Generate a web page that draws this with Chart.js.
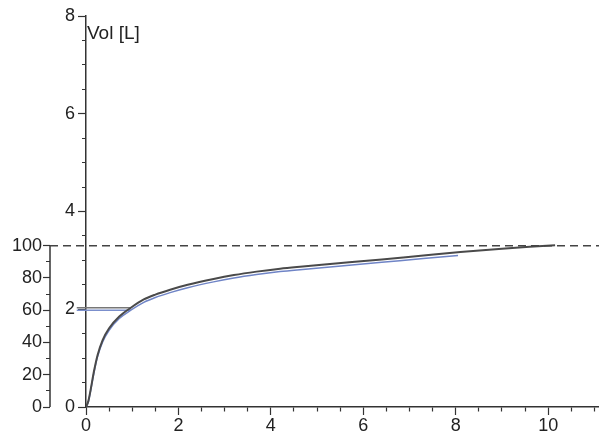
<!DOCTYPE html>
<html>
<head>
<meta charset="utf-8">
<script src="https://cdn.jsdelivr.net/npm/chart.js@4.4.1/dist/chart.umd.min.js"></script>
<style>
  body { margin: 0; background: #fff; }
  #wrap { width: 599px; height: 446px; }
</style>
</head>
<body>
<div id="wrap"><canvas id="volChart" width="599" height="446"></canvas></div>
<script>
// Volume-time curve data (seconds, litres)
const measTime = [0, 0.05, 0.1, 0.17, 0.25, 0.36, 0.5, 0.72, 0.97, 1.25, 1.5, 1.82, 2.2, 2.76, 3.2, 3.69, 4.2, 4.63, 5.46, 6.4, 7.3, 8.1, 9.0, 9.6, 10.15];
const measVol  = [0, 0.12, 0.35, 0.72, 1.06, 1.37, 1.61, 1.85, 2.03, 2.20, 2.30, 2.40, 2.50, 2.62, 2.70, 2.77, 2.83, 2.87, 2.94, 3.02, 3.10, 3.17, 3.24, 3.28, 3.31];

const refTime = [0, 0.05, 0.1, 0.17, 0.25, 0.36, 0.5, 0.72, 0.97, 1.25, 1.5, 1.82, 2.2, 2.76, 3.2, 3.69, 4.2, 4.63, 5.46, 6.4, 7.3, 8.05];
const refVol  = [0, 0.10, 0.33, 0.69, 1.03, 1.33, 1.57, 1.81, 1.98, 2.14, 2.24, 2.34, 2.44, 2.56, 2.64, 2.71, 2.77, 2.81, 2.88, 2.96, 3.04, 3.10];

// FEV1 markers: horizontal lines ending at 1 s
const fev1Time = [-0.2, 0.97];
const fev1Meas = [2.03, 2.03];
const fev1Ref  = [1.98, 1.98];

// 100 % reference volume (dashed line)
const fullVol = 3.30;

// axis settings
const xMax = 11.1;
const volMax = 8;
const pctLabels = [0, 20, 40, 60, 80, 100];

const toPoints = (xs, ys) => xs.map((x, i) => ({ x: x, y: ys[i] }));

const axisColor = '#333';
const fontSpec = { family: "'Liberation Sans', Arial, sans-serif", size: 18 };

// dashed 100% line, partial % axis line and the "Vol [L]" caption
const extrasPlugin = {
    id: 'extras',
    afterDatasetsDraw(chart) {
        const ctx = chart.ctx;
        const area = chart.chartArea;
        const pct = chart.scales.yPct;
        const vol = chart.scales.y;
        const axisX = pct.right;

        ctx.save();
        // % axis line from 0 to 100
        ctx.strokeStyle = axisColor;
        ctx.lineWidth = 1.5;
        ctx.beginPath();
        ctx.moveTo(axisX, pct.getPixelForValue(0));
        ctx.lineTo(axisX, pct.getPixelForValue(100));
        ctx.stroke();

        // dashed line at 100 %
        const y100 = pct.getPixelForValue(100);
        ctx.setLineDash([8, 5]);
        ctx.strokeStyle = '#444';
        ctx.beginPath();
        ctx.moveTo(axisX, y100);
        ctx.lineTo(area.right, y100);
        ctx.stroke();
        ctx.setLineDash([]);

        // caption
        ctx.fillStyle = '#222';
        ctx.font = "19px 'Liberation Sans', Arial, sans-serif";
        ctx.textBaseline = 'alphabetic';
        ctx.textAlign = 'left';
        ctx.fillText('Vol [L]', area.left + 1, vol.getPixelForValue(volMax) + 23);
        ctx.restore();
    }
};

function minorDash(len, minor, isLeft) {
    // shorten minor ticks with a dash pattern
    return isLeft ? [0, len - minor, minor, 60] : [minor, 60];
}

new Chart(document.getElementById('volChart'), {
    type: 'line',
    data: {
        datasets: [
            {
                label: 'measured',
                data: toPoints(measTime, measVol),
                borderColor: '#4a4a4a',
                borderWidth: 2,
                pointRadius: 0,
                cubicInterpolationMode: 'monotone',
                yAxisID: 'y'
            },
            {
                label: 'reference',
                data: toPoints(refTime, refVol),
                borderColor: '#6f84c6',
                borderWidth: 1.5,
                pointRadius: 0,
                cubicInterpolationMode: 'monotone',
                yAxisID: 'y'
            },
            {
                label: 'FEV1 measured',
                data: toPoints(fev1Time, fev1Meas),
                borderColor: '#777',
                borderWidth: 1.5,
                pointRadius: 0,
                clip: false,
                yAxisID: 'y'
            },
            {
                label: 'FEV1 reference',
                data: toPoints(fev1Time, fev1Ref),
                borderColor: '#7b8fcc',
                borderWidth: 1.5,
                pointRadius: 0,
                clip: false,
                yAxisID: 'y'
            }
        ]
    },
    options: {
        responsive: false,
        animation: false,
        layout: {
            padding: { top: 16, right: 0, bottom: 0, left: 0 }
        },
        plugins: {
            legend: { display: false },
            tooltip: { enabled: false }
        },
        scales: {
            x: {
                type: 'linear',
                min: 0,
                max: xMax,
                afterFit: s => { s.height = 39; },
                border: { color: axisColor, width: 1.5 },
                grid: {
                    drawOnChartArea: false,
                    tickLength: 8,
                    tickColor: axisColor,
                    tickWidth: 1.2,
                    tickBorderDash: ctx => (ctx.tick && ctx.tick.value % 2 === 0) ? [] : minorDash(8, 4, false)
                },
                ticks: {
                    stepSize: 0.5,
                    includeBounds: false,
                    autoSkip: false,
                    maxRotation: 0,
                    padding: 0,
                    color: '#222',
                    font: fontSpec,
                    callback: v => (v % 2 === 0 ? String(v) : '')
                }
            },
            y: {
                type: 'linear',
                position: 'left',
                weight: 0,
                min: 0,
                max: volMax,
                afterFit: s => { s.width = 36; },
                border: { color: axisColor, width: 1.5 },
                grid: {
                    drawOnChartArea: false,
                    tickLength: 8,
                    tickColor: axisColor,
                    tickWidth: 1.2,
                    tickBorderDash: ctx => (ctx.tick && ctx.tick.value % 2 === 0) ? [] : minorDash(8, 4, true)
                },
                ticks: {
                    stepSize: 0.5,
                    autoSkip: false,
                    padding: 3,
                    color: '#222',
                    font: fontSpec,
                    callback: v => (v % 2 === 0 ? String(v) : '')
                }
            },
            yPct: {
                type: 'linear',
                position: 'left',
                weight: 1,
                min: 0,
                max: 100 * volMax / fullVol,
                afterFit: s => { s.width = 50; },
                border: { display: false },
                grid: {
                    drawOnChartArea: false,
                    tickLength: 7,
                    tickWidth: 1.2,
                    tickColor: ctx => (ctx.tick && ctx.tick.value <= 100) ? axisColor : 'rgba(0,0,0,0)',
                    tickBorderDash: ctx => (ctx.tick && pctLabels.includes(ctx.tick.value)) ? [] : minorDash(7, 4, true)
                },
                ticks: {
                    stepSize: 10,
                    includeBounds: false,
                    autoSkip: false,
                    padding: 1,
                    color: '#222',
                    font: fontSpec,
                    callback: v => (pctLabels.includes(v) ? String(v) : '')
                }
            }
        }
    },
    plugins: [extrasPlugin]
});
</script>
</body>
</html>
